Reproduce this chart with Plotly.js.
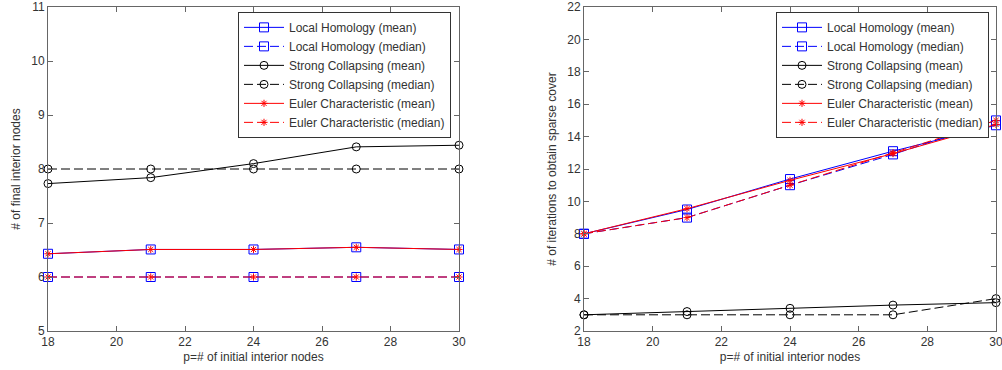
<!DOCTYPE html>
<html>
<head>
<meta charset="utf-8">
<script src="https://cdn.plot.ly/plotly-3.0.1.min.js"></script>
<style>html,body{margin:0;padding:0;background:#fff;}#chart{width:1002px;height:370px;}</style>
</head>
<body>
<div id="chart"></div>
<script>
// ---- data ----
const xVals = [18, 21, 24, 27, 30];
const seriesNames = [
  "Local Homology (mean)", "Local Homology (median)",
  "Strong Collapsing (mean)", "Strong Collapsing (median)",
  "Euler Characteristic (mean)", "Euler Characteristic (median)"
];
// left panel: # of final interior nodes
const lhMeanL = [6.43, 6.51, 6.51, 6.55, 6.51];
const lhMedL  = [6, 6, 6, 6, 6];
const scMeanL = [7.73, 7.84, 8.10, 8.41, 8.44];
const scMedL  = [8, 8, 8, 8, 8];
const ecMeanL = [6.43, 6.51, 6.51, 6.55, 6.51];
const ecMedL  = [6, 6, 6, 6, 6];
// right panel: # of iterations to obtain sparse cover
const lhMeanR = [8, 9.5, 11.38, 13.1, 14.7];
const lhMedR  = [8, 9, 11, 12.9, 15];
const scMeanR = [3, 3.2, 3.4, 3.6, 3.75];
const scMedR  = [3, 3, 3, 3, 4];
const ecMeanR = [8, 9.55, 11.3, 12.95, 14.75];
const ecMedR  = [8, 9, 11, 13, 15];

const xTickVals = [18, 20, 22, 24, 26, 28, 30];
const yTickValsL = [5, 6, 7, 8, 9, 10, 11];
const yTickValsR = [2, 4, 6, 8, 10, 12, 14, 16, 18, 20, 22];

// ---- styles ----
const styles = [
  {color: "#0000ff", dash: "solid", symbol: "square-open", size: 9},
  {color: "#0000ff", dash: "9px,4px", symbol: "square-open", size: 9},
  {color: "#000000", dash: "solid", symbol: "circle-open", size: 8},
  {color: "#000000", dash: "9px,4px", symbol: "circle-open", size: 8},
  {color: "#ff0000", dash: "solid", symbol: "asterisk-open", size: 6},
  {color: "#ff0000", dash: "9px,4px", symbol: "asterisk-open", size: 6}
];

function mk(y, i, xa, ya, leg) {
  const s = styles[i];
  return {
    x: xVals, y: y, type: "scatter", mode: "lines+markers",
    name: seriesNames[i], xaxis: xa, yaxis: ya, legend: leg,
    cliponaxis: false,
    line: {color: s.color, width: 1, dash: s.dash},
    marker: {symbol: s.symbol, size: s.size, color: s.color, line: {color: s.color, width: 1}}
  };
}

const leftData = [lhMeanL, lhMedL, scMeanL, scMedL, ecMeanL, ecMedL];
const rightData = [lhMeanR, lhMedR, scMeanR, scMedR, ecMeanR, ecMedR];
const traces = [];
leftData.forEach((y, i) => traces.push(mk(y, i, "x", "y", "legend")));
rightData.forEach((y, i) => traces.push(mk(y, i, "x2", "y2", "legend2")));

const font = {family: "Liberation Sans, Arial, sans-serif", size: 12, color: "#333"};
function axBase() {
  return {
    showgrid: false, zeroline: false, showline: true, linecolor: "#666", linewidth: 1,
    mirror: "ticks", ticks: "inside", ticklen: 5, tickcolor: "#666", tickwidth: 1,
    tickfont: font, fixedrange: true, ticklabeloverflow: "allow"
  };
}
const legBase = {
  bgcolor: "#fff", bordercolor: "#333", borderwidth: 1, font: font,
  xanchor: "left", yanchor: "top", y: 0.985, itemwidth: 40, traceorder: "normal",
  tracegroupgap: 0
};

const layout = {
  width: 1002, height: 370,
  margin: {l: 0, r: 0, t: 7, b: 39},
  paper_bgcolor: "#fff", plot_bgcolor: "#fff",
  font: font,
  showlegend: true,
  xaxis: Object.assign(axBase(), {domain: [48/1002, 459/1002], range: [18, 30], tickvals: xTickVals, anchor: "y",
    title: {text: "p=# of initial interior nodes", font: font, standoff: 4}}),
  yaxis: Object.assign(axBase(), {domain: [0, 1], range: [5, 11], tickvals: yTickValsL, anchor: "x",
    title: {text: "# of final interior nodes", font: font, standoff: 8}}),
  xaxis2: Object.assign(axBase(), {domain: [584/1002, 996/1002], range: [18, 30], tickvals: xTickVals, anchor: "y2",
    title: {text: "p=# of initial interior nodes", font: font, standoff: 4}}),
  yaxis2: Object.assign(axBase(), {domain: [0, 1], range: [2, 22], tickvals: yTickValsR, anchor: "x2",
    title: {text: "# of iterations to obtain sparse cover", font: font, standoff: 8}}),
  legend: Object.assign({}, legBase, {x: 238/1002}),
  legend2: Object.assign({}, legBase, {x: 776/1002})
};

Plotly.newPlot("chart", traces, layout, {displayModeBar: false, staticPlot: true});
</script>
</body>
</html>
